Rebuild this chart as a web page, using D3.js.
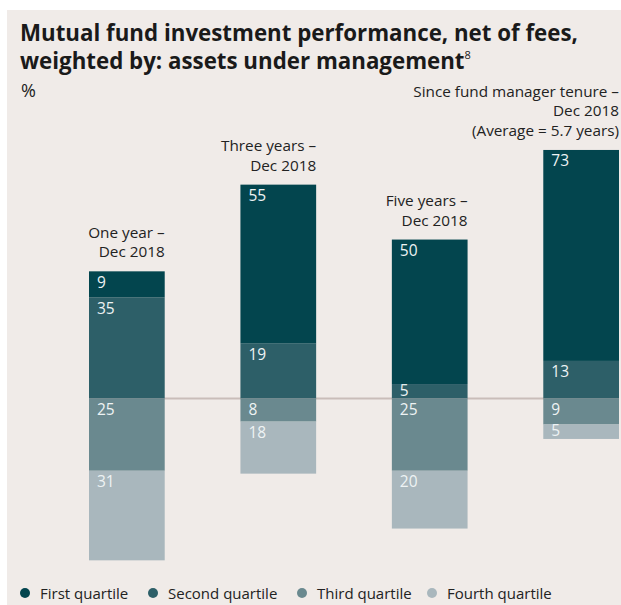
<!DOCTYPE html>
<html>
<head>
<meta charset="utf-8">
<script src="https://cdn.jsdelivr.net/npm/d3@7"></script>
<style>
  html, body { margin: 0; padding: 0; background: #fff; }
  svg { display: block; font-family: "Open Sans", Lato, sans-serif; }
</style>
</head>
<body>
<svg id="chart" width="621" height="605"></svg>
<script>
const categories = ['1y', '3y', '5y', 'tenure'];
const categoryLabels = [
  ['One year –', 'Dec 2018'],
  ['Three years –', 'Dec 2018'],
  ['Five years –', 'Dec 2018'],
  ['Since fund manager tenure –', 'Dec 2018', '(Average = 5.7 years)']
];
const firstQuartile = [9, 55, 50, 73];
const secondQuartile = [35, 19, 5, 13];
const thirdQuartile = [25, 8, 25, 9];
const fourthQuartile = [31, 18, 20, 5];
const seriesNames = ['First quartile', 'Second quartile', 'Third quartile', 'Fourth quartile'];

const colors = {
  first: '#03454e',
  second: '#2d5f68',
  third: '#6a898f',
  fourth: '#a9b7bd'
};

const svg = d3.select('#chart');

// background panel
svg.append('rect')
  .attr('x', 7).attr('y', 10)
  .attr('width', 614).attr('height', 595)
  .attr('fill', '#f0ebe8');

// title
svg.append('text')
  .attr('x', 20).attr('y', 41)
  .attr('font-size', 22.3).attr('font-weight', 700)
  .attr('fill', '#1a1a1a')
  .text('Mutual fund investment performance, net of fees,');
const t2 = svg.append('text')
  .attr('x', 20).attr('y', 69)
  .attr('font-size', 22.3).attr('font-weight', 700)
  .attr('fill', '#1a1a1a');
t2.append('tspan').text('weighted by: assets under management');
t2.append('tspan').attr('font-size', 11).attr('font-weight', 400)
  .attr('dy', -10).text('8');

svg.append('text')
  .attr('x', 21).attr('y', 97)
  .attr('font-size', 18).attr('fill', '#222')
  .text('%');

// data for stacking
const rows = categories.map((c, i) => ({
  cat: c,
  second: secondQuartile[i],
  first: firstQuartile[i],
  third: -thirdQuartile[i],
  fourth: -fourthQuartile[i]
}));

const keys = ['second', 'first', 'third', 'fourth'];
const stacked = d3.stack()
  .keys(keys)
  .offset(d3.stackOffsetDiverging)(rows);

const x = d3.scaleBand()
  .domain(categories)
  .range([89, 619])
  .paddingInner(0.5)
  .paddingOuter(0);

const y = d3.scaleLinear()
  .domain([-60, 90])
  .range([398.5 + 60 * 2.89, 398.5 - 90 * 2.89]);

// zero line
svg.append('line')
  .attr('x1', x(categories[0]))
  .attr('x2', x(categories[categories.length - 1]) + x.bandwidth())
  .attr('y1', y(0)).attr('y2', y(0))
  .attr('stroke', '#c9bdb9')
  .attr('stroke-width', 2);

// bars
const layer = svg.append('g')
  .selectAll('g')
  .data(stacked)
  .join('g')
  .attr('fill', d => colors[d.key]);

layer.selectAll('rect')
  .data(d => d)
  .join('rect')
  .attr('x', d => x(d.data.cat))
  .attr('y', d => y(Math.max(d[0], d[1])))
  .attr('width', x.bandwidth())
  .attr('height', d => Math.abs(y(d[0]) - y(d[1])));

// value labels at top-left of each segment, kept inside small segments
layer.selectAll('text')
  .data(d => d.map(v => ({ v, key: d.key })))
  .join('text')
  .attr('x', d => x(d.v.data.cat) + 8)
  .attr('y', d => {
    const top = y(Math.max(d.v[0], d.v[1]));
    const bottom = y(Math.min(d.v[0], d.v[1]));
    return Math.min(top + 16.5, bottom - 2.5);
  })
  .attr('font-size', 15.5)
  .attr('fill', '#eef3f4')
  .text(d => Math.abs(d.v.data[d.key]));

// category labels above bars
categories.forEach((c, i) => {
  const top = y(firstQuartile[i] + secondQuartile[i]);
  const lines = categoryLabels[i];
  const txt = svg.append('text')
    .attr('text-anchor', 'end')
    .attr('font-size', 15.3)
    .attr('fill', '#222');
  lines.forEach((l, j) => {
    txt.append('tspan')
      .attr('x', x(c) + x.bandwidth())
      .attr('y', top - 14 - (lines.length - 1 - j) * 19.5)
      .text(l);
  });
});

// legend
const legendX = [25, 153, 302, 432];
const legendColors = [colors.first, colors.second, colors.third, colors.fourth];
const legend = svg.append('g')
  .selectAll('g')
  .data(seriesNames)
  .join('g')
  .attr('transform', (d, i) => `translate(${legendX[i]},593)`);
legend.append('circle')
  .attr('r', 5)
  .attr('fill', (d, i) => legendColors[i]);
legend.append('text')
  .attr('x', 15).attr('y', 5.5)
  .attr('font-size', 15)
  .attr('fill', '#222')
  .text(d => d);
</script>
</body>
</html>
